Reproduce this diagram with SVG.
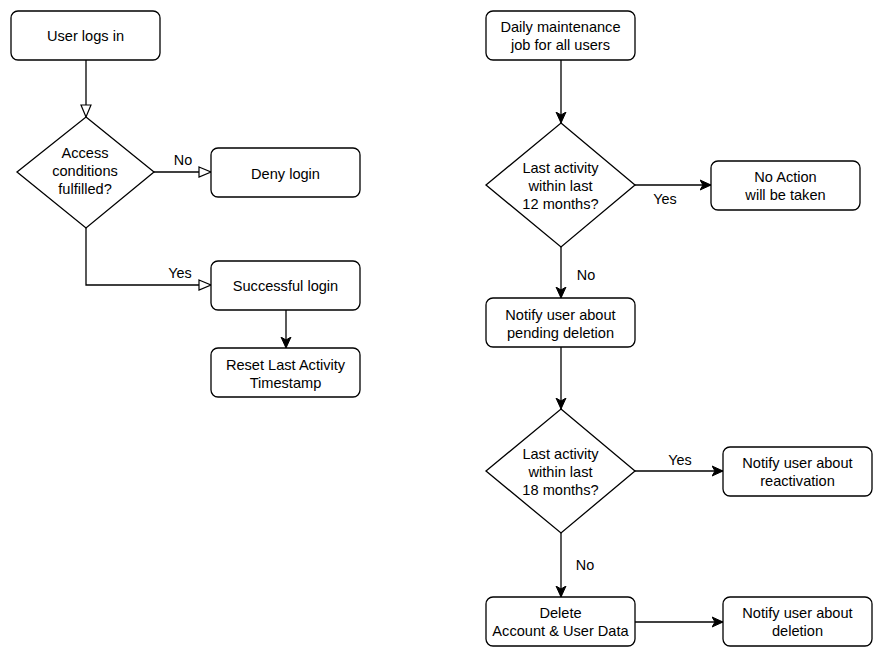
<svg xmlns="http://www.w3.org/2000/svg" width="887" height="661" viewBox="0 0 887 661">
<style>
.n{fill:#fff;stroke:#000;stroke-width:1.3}
.t{font-family:"Liberation Sans",Arial,sans-serif;font-size:14.6px;fill:#000;text-anchor:middle}
.l{font-family:"Liberation Sans",Arial,sans-serif;font-size:14.4px;fill:#000;text-anchor:middle}
.e{fill:none;stroke:#000;stroke-width:1.3}
</style>
<defs>
<marker id="ao" markerWidth="16" markerHeight="16" refX="13" refY="6" orient="auto" markerUnits="userSpaceOnUse">
<path d="M1,1 L13,6 L1,11 Z" fill="#fff" stroke="#000" stroke-width="1.2"/>
</marker>
<marker id="af" markerWidth="14" markerHeight="14" refX="11" refY="6" orient="auto" markerUnits="userSpaceOnUse">
<path d="M0,1 L11,6 L0,11 L3,6 Z" fill="#000" stroke="#000" stroke-width="1"/>
</marker>
</defs>
<rect width="887" height="661" fill="#fff"/>
<g id="connectors">
<path class="e" d="M86,60 V117" marker-end="url(#ao)"/>
<path class="e" d="M154,172 H211" marker-end="url(#ao)"/>
<path class="e" d="M86,228 V285 H211" marker-end="url(#ao)"/>
<path class="e" d="M286,310 V348" marker-end="url(#af)"/>
<path class="e" d="M561,60 V123" marker-end="url(#af)"/>
<path class="e" d="M635,185 H711" marker-end="url(#af)"/>
<path class="e" d="M561,247 V298" marker-end="url(#af)"/>
<path class="e" d="M561,347 V409" marker-end="url(#af)"/>
<path class="e" d="M635,471 H723" marker-end="url(#af)"/>
<path class="e" d="M561,533 V597" marker-end="url(#af)"/>
<path class="e" d="M635,622 H723" marker-end="url(#af)"/>
<text class="l" x="183" y="165">No</text>
<text class="l" x="180" y="278">Yes</text>
<text class="l" x="665" y="204">Yes</text>
<text class="l" x="586" y="280">No</text>
<text class="l" x="680" y="465">Yes</text>
<text class="l" x="585" y="570">No</text>
</g>
<g id="user-logs-in"><rect class="n" x="11" y="11" width="149" height="49" rx="7"/><text class="t" x="85.5" y="41">User logs in</text></g>
<g id="access-conditions"><path class="n" d="M86,117 L154,172 L86,228 L17,172 Z"/><text class="t" x="85" y="158">Access</text><text class="t" x="85" y="176">conditions</text><text class="t" x="85" y="194">fulfilled?</text></g>
<g id="deny-login"><rect class="n" x="211" y="148" width="149" height="49" rx="7"/><text class="t" x="285.5" y="179">Deny login</text></g>
<g id="successful-login"><rect class="n" x="211" y="261" width="149" height="49" rx="7"/><text class="t" x="285.5" y="291">Successful login</text></g>
<g id="reset-timestamp"><rect class="n" x="211" y="348" width="149" height="49" rx="7"/><text class="t" x="285.5" y="370">Reset Last Activity</text><text class="t" x="285.5" y="388">Timestamp</text></g>
<g id="daily-job"><rect class="n" x="486" y="11" width="149" height="49" rx="7"/><text class="t" x="560.5" y="32">Daily maintenance</text><text class="t" x="560.5" y="50">job for all users</text></g>
<g id="decision-12"><path class="n" d="M561,123 L635,185 L561,247 L486,185 Z"/><text class="t" x="560.5" y="173">Last activity</text><text class="t" x="560.5" y="191">within last</text><text class="t" x="560.5" y="209">12 months?</text></g>
<g id="no-action"><rect class="n" x="711" y="161" width="149" height="49" rx="7"/><text class="t" x="785.5" y="182">No Action</text><text class="t" x="785.5" y="200">will be taken</text></g>
<g id="notify-pending"><rect class="n" x="486" y="298" width="149" height="49" rx="7"/><text class="t" x="560.5" y="320">Notify user about</text><text class="t" x="560.5" y="338">pending deletion</text></g>
<g id="decision-18"><path class="n" d="M561,409 L635,471 L561,533 L486,471 Z"/><text class="t" x="560.5" y="459">Last activity</text><text class="t" x="560.5" y="477">within last</text><text class="t" x="560.5" y="495">18 months?</text></g>
<g id="notify-reactivation"><rect class="n" x="723" y="447" width="149" height="49" rx="7"/><text class="t" x="797.5" y="468">Notify user about</text><text class="t" x="797.5" y="486">reactivation</text></g>
<g id="delete-account"><rect class="n" x="486" y="597" width="149" height="49" rx="7"/><text class="t" x="560.5" y="618">Delete</text><text class="t" x="560.5" y="636">Account &amp; User Data</text></g>
<g id="notify-deletion"><rect class="n" x="723" y="597" width="149" height="49" rx="7"/><text class="t" x="797.5" y="618">Notify user about</text><text class="t" x="797.5" y="636">deletion</text></g>
</svg>
